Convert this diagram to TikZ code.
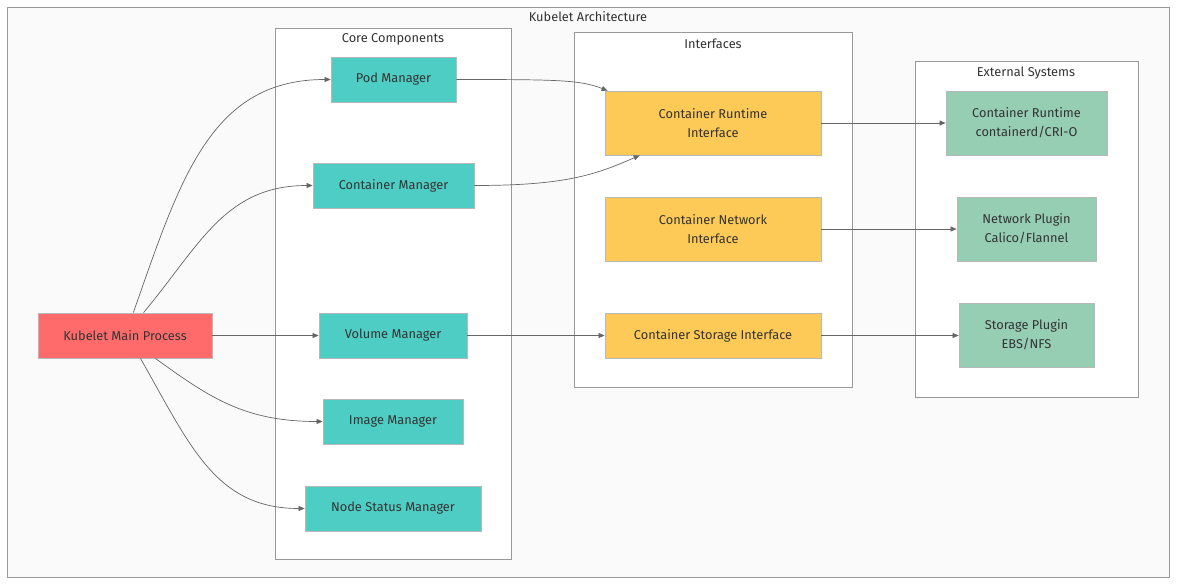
\documentclass[tikz,border=0pt]{standalone}
\usepackage{fontspec}
\setmainfont{Fira Sans}
\usepackage{xcolor}
\usepackage{tikz}
\usetikzlibrary{calc,arrows.meta,positioning}

\definecolor{mainred}{HTML}{FF6B6B}
\definecolor{coreteal}{HTML}{4ECDC4}
\definecolor{ifyellow}{HTML}{FECA57}
\definecolor{extgreen}{HTML}{96CEB4}
\definecolor{linegray}{HTML}{666666}
\definecolor{framegray}{HTML}{999999}
\definecolor{textgray}{HTML}{333333}

\begin{document}
\begin{tikzpicture}[x=1pt, y=-1pt,
    every node/.style={font=\fontsize{12.8}{15}\selectfont, text=textgray},
    comp/.style={draw=framegray!70, line width=0.8pt, inner sep=0pt, align=center},
    mainbox/.style={comp, fill=mainred},
    corebox/.style={comp, fill=coreteal},
    ifbox/.style={comp, fill=ifyellow},
    extbox/.style={comp, fill=extgreen},
    group/.style={draw=framegray, line width=0.8pt},
    grouptitle/.style={anchor=center},
    edge/.style={draw=linegray, line width=0.7pt, -{Triangle[length=6pt, width=5pt]}}
]
    \useasboundingbox (0,0) rectangle (1184,588);
    \fill[white] (0,0) rectangle (1184,588);

    % Outer frame
    \draw[group, fill=white!98!black] (7,7) rectangle (1169,577);
    \node[grouptitle] (title) at (588,17) {Kubelet Architecture};

    % Groups
    \draw[group, fill=white] (275,28) rectangle (511,559);
    \node[grouptitle] (coretitle) at (393,39) {Core Components};
    \draw[group, fill=white] (574,32) rectangle (852,387);
    \node[grouptitle] (iftitle) at (713,44) {Interfaces};
    \draw[group, fill=white] (915,61) rectangle (1138,397);
    \node[grouptitle] (exttitle) at (1026,73) {External Systems};

    % Main process
    \node[mainbox, minimum width=174pt, minimum height=45pt] (main) at (125,335.5) {Kubelet Main Process};

    % Core components
    \node[corebox, minimum width=125pt, minimum height=45pt] (pod) at (393.5,79.5) {Pod Manager};
    \node[corebox, minimum width=161pt, minimum height=45pt] (cm) at (393.5,185.5) {Container Manager};
    \node[corebox, minimum width=148pt, minimum height=45pt] (vm) at (393,335.5) {Volume Manager};
    \node[corebox, minimum width=140pt, minimum height=45pt] (im) at (393,421.5) {Image Manager};
    \node[corebox, minimum width=176pt, minimum height=45pt] (ns) at (393,508.5) {Node Status Manager};

    % Interfaces
    \node[ifbox, minimum width=216pt, minimum height=64pt] (cri) at (713,123) {Container Runtime\\[4pt]Interface};
    \node[ifbox, minimum width=216pt, minimum height=64pt] (cni) at (713,229) {Container Network\\[4pt]Interface};
    \node[ifbox, minimum width=216pt, minimum height=45pt] (csi) at (713,335.5) {Container Storage Interface};

    % External systems
    \node[extbox, minimum width=161pt, minimum height=64pt] (runtime) at (1026.5,123) {Container Runtime\\[4pt]containerd/CRI-O};
    \node[extbox, minimum width=139pt, minimum height=64pt] (netplug) at (1026.5,229) {Network Plugin\\[4pt]Calico/Flannel};
    \node[extbox, minimum width=135pt, minimum height=64pt] (storplug) at (1026.5,335) {Storage Plugin\\[4pt]EBS/NFS};

    % Main -> core
    \draw[edge] (main.70) .. controls (180,180) and (210,79.5) .. (pod.west);
    \draw[edge] (main.51) .. controls (200,245) and (225,185.5) .. (cm.west);
    \draw[edge] (main.east) -- (vm.west);
    \draw[edge] (main.-37) .. controls (210,398) and (245,421.5) .. (im.west);
    \draw[edge] (main.-56) .. controls (190,445) and (215,508.5) .. (ns.west);

    % Core -> interfaces
    \draw[edge] (pod.east) .. controls (560,79.5) and (580,80) .. ($(cri.north west)+(3,0)$);
    \draw[edge] (cm.east) .. controls (565,185.5) and (595,175) .. ($(cri.south west)+(35,0)$);
    \draw[edge] (vm.east) -- (csi.west);

    % Interfaces -> external
    \draw[edge] (cri.east) -- (runtime.west);
    \draw[edge] (cni.east) -- (netplug.west);
    \draw[edge] (csi.east) -- (storplug.west |- csi.east);
\end{tikzpicture}
\end{document}
